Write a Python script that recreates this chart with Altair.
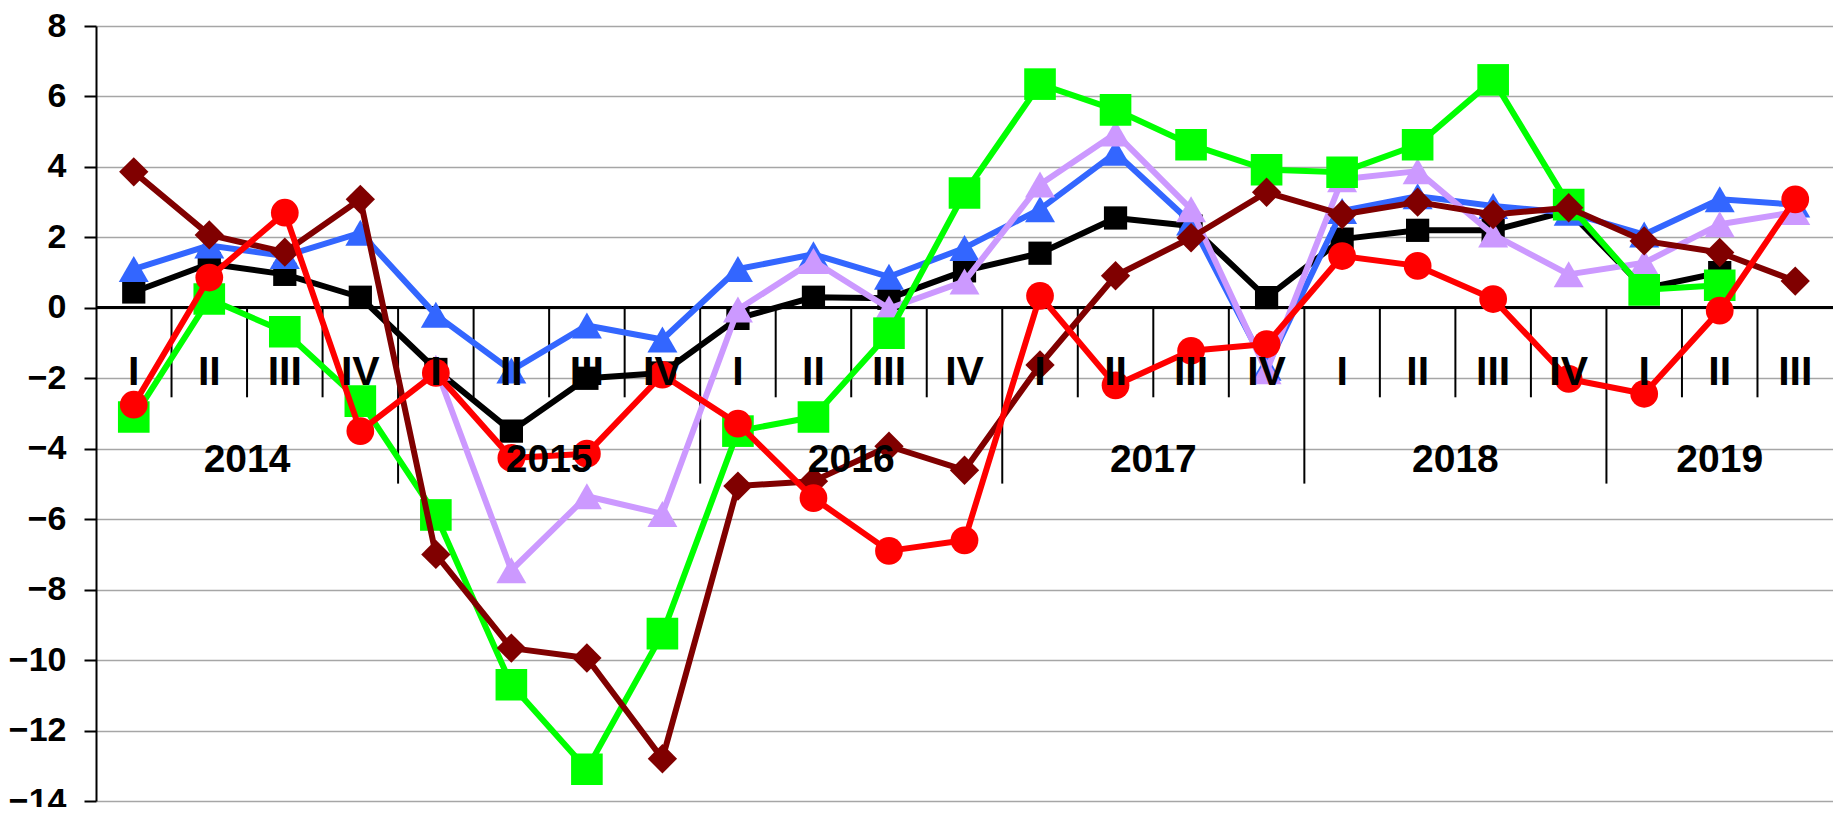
import altair as alt
import pandas as pd

quarters = ["I", "II", "III", "IV"] * 5 + ["I", "II", "III"]
years = [2014] * 4 + [2015] * 4 + [2016] * 4 + [2017] * 4 + [2018] * 4 + [2019] * 3

black = [0.45, 1.25, 0.95, 0.3, -1.75, -3.5, -2.0, -1.85, -0.3, 0.3, 0.27, 1.05,
         1.55, 2.55, 2.32, 0.29, 1.95, 2.2, 2.2, 2.75, 0.55, 1.0, None]
blue = [1.1, 1.77, 1.47, 2.13, -0.2, -1.78, -0.5, -0.9, 1.1, 1.52, 0.88, 1.7,
        2.8, 4.4, 2.42, -1.7, 2.75, 3.17, 2.89, 2.7, 2.08, 3.08, 2.93]
lavender = [None, None, None, None, -1.7, -7.45, -5.35, -5.85, -0.05, 1.33, -0.02, 0.75,
            3.5, 4.95, 2.8, -1.8, 3.65, 3.88, 2.08, 0.95, 1.28, 2.37, 2.72]
green = [-3.1, 0.25, -0.68, -2.65, -5.88, -10.7, -13.1, -9.25, -3.5, -3.1, -0.72, 3.26,
         6.35, 5.62, 4.63, 3.92, 3.85, 4.63, 6.47, 2.93, 0.51, 0.64, None]
maroon = [3.86, 2.07, 1.58, 3.08, -7.0, -9.66, -9.94, -12.8, -5.06, -4.92, -3.93, -4.61,
          -1.62, 0.91, 1.99, 3.28, 2.65, 3.0, 2.65, 2.84, 1.9, 1.57, 0.76]
red = [-2.75, 0.86, 2.7, -3.5, -1.85, -4.26, -4.14, -1.9, -3.29, -5.4, -6.9, -6.6,
       0.34, -2.2, -1.22, -1.03, 1.47, 1.19, 0.25, -2.02, -2.44, -0.08, 3.08]

series = [
    ("black", black, "#000000", "square", 540),
    ("blue", blue, "#3366FF", "triangle-up", 900),
    ("lavender", lavender, "#CC99FF", "triangle-up", 900),
    ("green", green, "#00FF00", "square", 1000),
    ("maroon", maroon, "#800000", "diamond", 860),
    ("red", red, "#FF0000", "circle", 770),
]

FONT = "Liberation Sans, Arial, sans-serif"
n = len(quarters)

xscale = alt.Scale(domain=[0, n], nice=False, zero=False)
yscale = alt.Scale(domain=[-14, 8], nice=False, zero=False)
yaxis = alt.Axis(values=list(range(-14, 9, 2)), title=None, labelFont=FONT,
                 labelFontSize=34, labelFontWeight="bold", labelColor="black",
                 domainColor="black", domainWidth=2, tickColor="black", tickWidth=2,
                 tickSize=12, labelPadding=18, gridColor="#A6A6A6", gridWidth=1.5,
                 grid=True)

X = alt.X("xpos:Q", scale=xscale, axis=None)
Y = alt.Y("value:Q", scale=yscale, axis=yaxis)

# category frame
cat = pd.DataFrame({"idx": list(range(n)), "q": quarters, "year": years})
cat["xpos"] = cat["idx"] + 0.5

# separators between bands
bounds = pd.DataFrame({"b": list(range(1, n))})
bounds["yearsep"] = [years[b] != years[b - 1] for b in bounds["b"]]

yr = cat.groupby("year", as_index=False)["xpos"].mean()
yr["label"] = yr["year"].astype(str)

layers = []

# zero line
layers.append(
    alt.Chart(cat).mark_rule(color="black", strokeWidth=2.5).encode(
        x=alt.value(0), x2=alt.value(1737), y=alt.Y(datum=0, scale=yscale, axis=yaxis)
    )
)
# short quarter separators
layers.append(
    alt.Chart(bounds[~bounds["yearsep"]]).mark_rule(color="black", strokeWidth=2).encode(
        x=alt.X("b:Q", scale=xscale, axis=None), y=alt.datum(0), y2=alt.datum(-2.54)
    )
)
# long year separators
layers.append(
    alt.Chart(bounds[bounds["yearsep"]]).mark_rule(color="black", strokeWidth=2).encode(
        x=alt.X("b:Q", scale=xscale, axis=None), y=alt.datum(0), y2=alt.datum(-4.99)
    )
)

for name, vals, color, shape, size in series:
    d = pd.DataFrame({"xpos": [i + 0.5 for i in range(n)], "value": vals})
    d = d.dropna()
    layers.append(
        alt.Chart(d).mark_line(color=color, strokeWidth=6, strokeJoin="round").encode(x=X, y=Y)
    )
    layers.append(
        alt.Chart(d).mark_point(shape=shape, size=size, filled=True, opacity=1,
                                color=color, strokeWidth=0).encode(x=X, y=Y)
    )

# quarter labels
layers.append(
    alt.Chart(cat).mark_text(font=FONT, fontSize=41, fontWeight="bold", color="black",
                             baseline="alphabetic", align="center").encode(
        x=X, y=alt.datum(-2.2), text="q:N"
    )
)
# year labels
layers.append(
    alt.Chart(yr).mark_text(font=FONT, fontSize=39, fontWeight="bold", color="black",
                            baseline="alphabetic", align="center").encode(
        x=X, y=alt.datum(-4.66), text="label:N"
    )
)

chart = alt.layer(*layers).properties(
    width=1737, height=775,
    padding={"left": 88, "top": 18, "right": 0, "bottom": 6},
    autosize=alt.AutoSizeParams(type="none"),
    background="white",
).configure_view(strokeWidth=0)

chart.save("out.html", embed_options={"renderer": "svg", "actions": False})
